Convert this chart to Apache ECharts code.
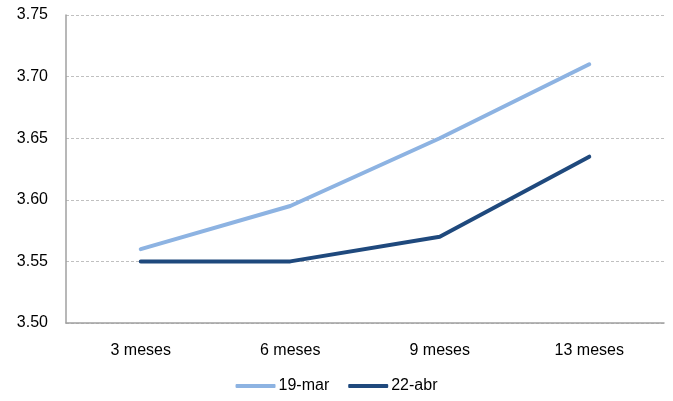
<!DOCTYPE html>
<html>
<head>
<meta charset="utf-8">
<script src="https://cdn.jsdelivr.net/npm/echarts@6/dist/echarts.min.js"></script>
<style>
  html, body { margin: 0; padding: 0; background: #fff; }
  #chart { width: 673px; height: 401px; }
</style>
</head>
<body>
<div id="chart"></div>
<script>
var categories = ["3 meses", "6 meses", "9 meses", "13 meses"];
var serieMar = [3.56, 3.595, 3.65, 3.71];
var serieAbr = [3.55, 3.55, 3.57, 3.635];
var seriesNames = ["19-mar", "22-abr"];

var myChart = echarts.init(document.getElementById("chart"));
myChart.setOption({
  animation: false,
  textStyle: { fontFamily: "Liberation Sans", color: "#000" },
  grid: { left: 66, right: 9, top: 15, bottom: 78 },
  legend: {
    bottom: 2,
    left: "center",
    itemWidth: 40,
    itemHeight: 4,
    itemGap: 19,
    icon: "roundRect",
    textStyle: { fontSize: 16, color: "#000", padding: [0, 0, 0, -2] },
    data: seriesNames,
  },
  xAxis: {
    type: "category",
    data: categories,
    boundaryGap: true,
    axisLine: { lineStyle: { color: "#a0a0a0", width: 1.5 } },
    axisTick: { show: false },
    axisLabel: { fontSize: 16, color: "#000", margin: 20 },
  },
  yAxis: {
    type: "value",
    min: 3.5,
    max: 3.75,
    interval: 0.05,
    axisLine: { show: true, lineStyle: { color: "#a0a0a0", width: 1.5 } },
    axisTick: { show: false },
    axisLabel: {
      fontSize: 16,
      color: "#000",
      margin: 18,
      formatter: function (v) { return v.toFixed(2); },
    },
    splitLine: { lineStyle: { color: "#c0c0c0", type: [3, 2] } },
  },
  series: [
    {
      name: seriesNames[0],
      type: "line",
      data: serieMar,
      symbol: "none",
      lineStyle: { color: "#8db3e2", width: 4, cap: "round" },
      itemStyle: { color: "#8db3e2" },
    },
    {
      name: seriesNames[1],
      type: "line",
      data: serieAbr,
      symbol: "none",
      lineStyle: { color: "#1f497d", width: 4, cap: "round" },
      itemStyle: { color: "#1f497d" },
    },
  ],
});
</script>
</body>
</html>
